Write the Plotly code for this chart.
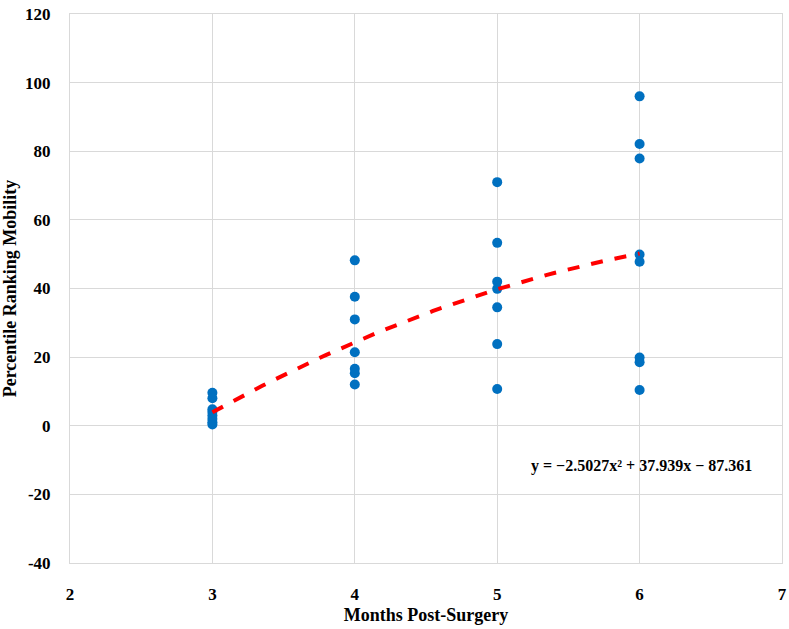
import numpy as np
import plotly.graph_objects as go

# Data
months = [3]*8 + [4]*7 + [5]*7 + [6]*8
mobility = [9.6, 8.0, 4.8, 4.0, 3.0, 2.0, 1.0, 0.4,
            48.2, 37.6, 31.0, 21.4, 16.6, 15.3, 12.0,
            71.0, 53.3, 42.0, 39.9, 34.5, 23.8, 10.7,
            96.0, 82.1, 77.9, 49.9, 47.8, 19.9, 18.5, 10.4]

# Trendline coefficients (as printed on the chart)
coef_a, coef_b, coef_c = -2.5027, 37.939, -87.361
trend_x = np.linspace(3, 6, 61)
trend_y = coef_a * trend_x**2 + coef_b * trend_x + coef_c

x_ticks = [2, 3, 4, 5, 6, 7]
y_ticks = [-40, -20, 0, 20, 40, 60, 80, 100, 120]

font_family = "Liberation Serif"

fig = go.Figure()
fig.add_trace(go.Scatter(x=months, y=mobility, mode="markers",
                         marker=dict(color="#0070C0", size=10),
                         showlegend=False))
fig.add_trace(go.Scatter(x=trend_x, y=trend_y, mode="lines",
                         line=dict(color="#FF0000", width=4, dash="dash"),
                         showlegend=False))

fig.add_annotation(x=6.01, y=-11.7, xref="x", yref="y",
                   text="<b>y = \u22122.5027x\u00b2 + 37.939x \u2212 87.361</b>",
                   showarrow=False, font=dict(family=font_family, size=16, color="black"))

tick_font = dict(family=font_family, size=17, color="black", weight="bold")
title_font = dict(family=font_family, size=18, color="black")

fig.update_layout(
    width=789, height=629,
    margin=dict(l=70, r=7, t=14, b=66, autoexpand=False),
    plot_bgcolor="white", paper_bgcolor="white",
    font=dict(family=font_family, color="black"),
    xaxis=dict(range=[2, 7], tickvals=x_ticks, ticktext=[str(v) for v in x_ticks],
               showgrid=True, gridcolor="#D9D9D9",
               gridwidth=1, zeroline=False, showline=True, linecolor="#D9D9D9",
               linewidth=1, mirror=True, automargin=False,
               tickfont=tick_font, ticks="", ticklabelstandoff=16,
               title=dict(text="<b>Months Post-Surgery</b>", standoff=4, font=title_font)),
    yaxis=dict(range=[-40, 120], tickvals=y_ticks, ticktext=[str(v) for v in y_ticks],
               showgrid=True, gridcolor="#D9D9D9",
               gridwidth=1, zeroline=False, showline=True, linecolor="#D9D9D9",
               linewidth=1, mirror=True, automargin=False,
               tickfont=tick_font, ticks="", ticklabelstandoff=15,
               title=dict(text="<b>Percentile Ranking Mobility</b>", standoff=6, font=title_font)),
)

fig.write_html("out.html", config={"displayModeBar": False},
               post_script="document.body.style.margin='0px';")
